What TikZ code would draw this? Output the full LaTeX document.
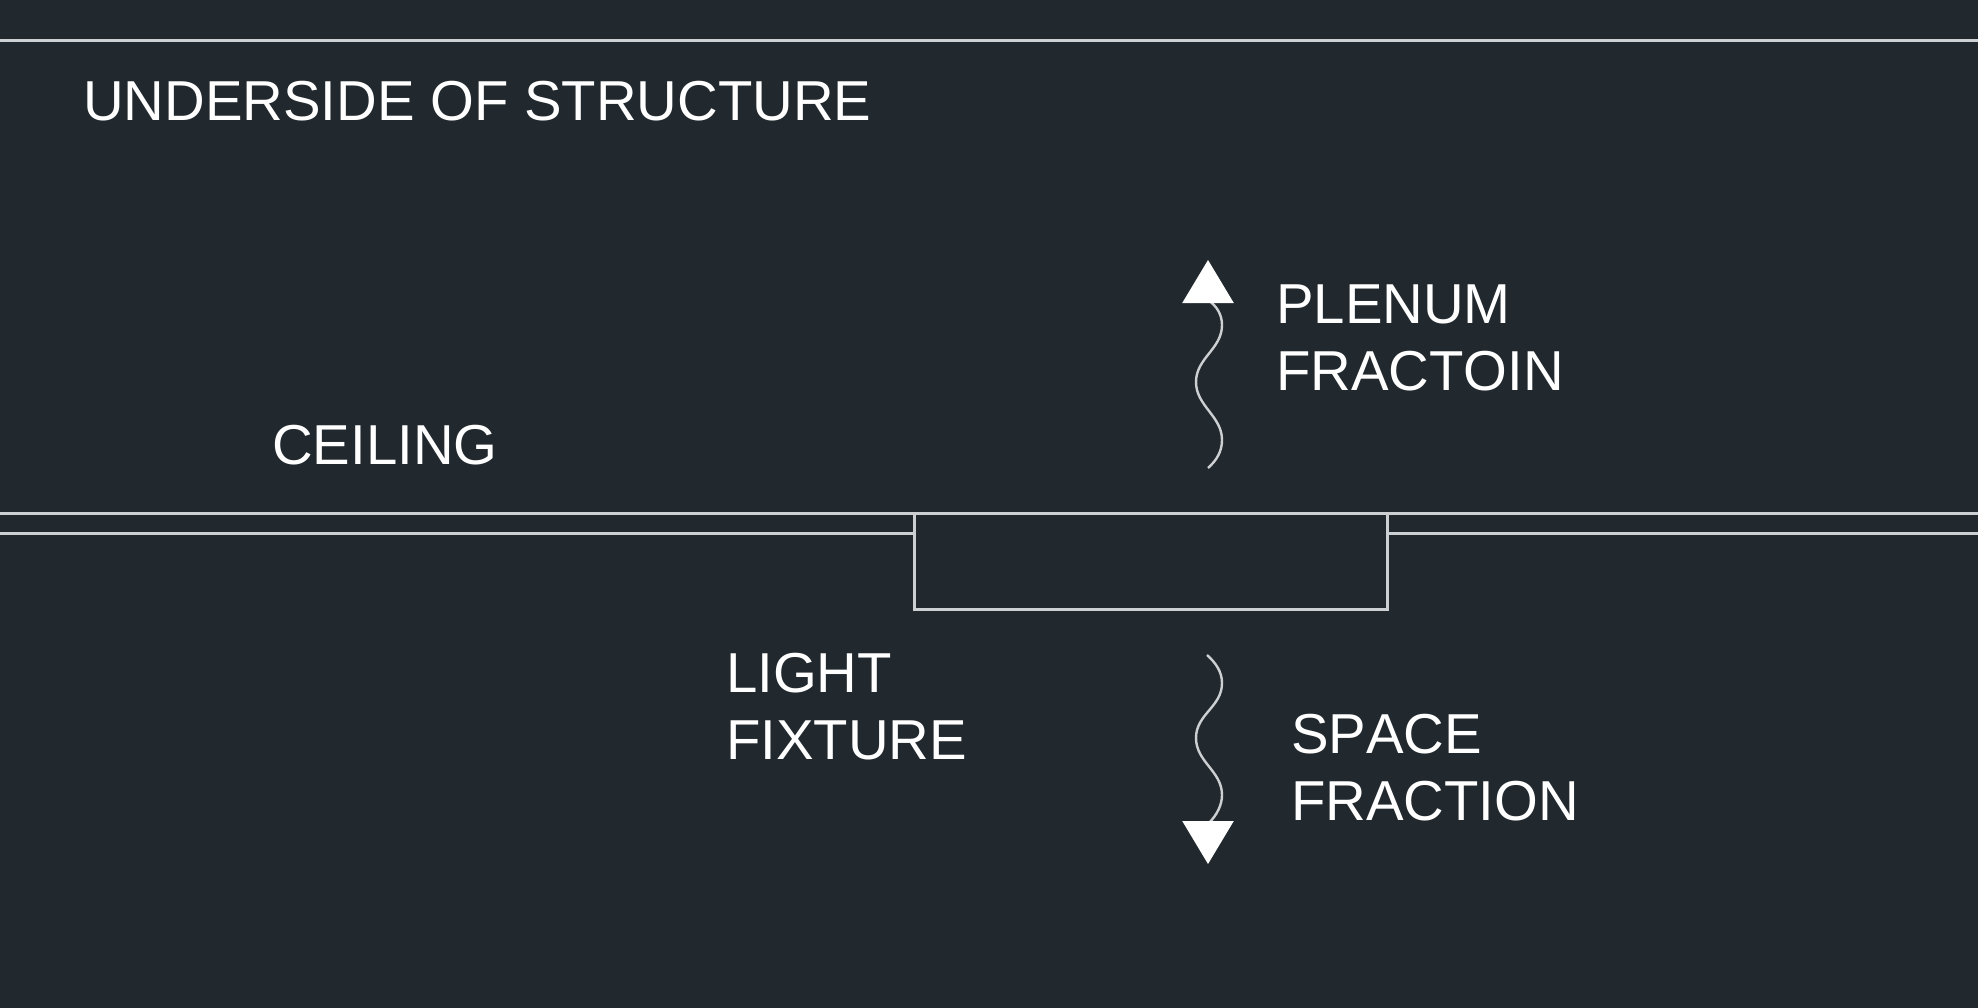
\documentclass[tikz,border=0pt]{standalone}
\usepackage{fontspec}
\setmainfont[Kerning=Off]{Liberation Sans}
\usetikzlibrary{arrows.meta}
\definecolor{bgdark}{HTML}{22292E}
\definecolor{cadline}{HTML}{CDD0D2}
\tikzset{
	label text/.style={text=white,inner sep=0,anchor=base west,align=left,font=\fontsize{56.3}{67}\selectfont},
	cad line/.style={draw=cadline,line width=3pt},
	wave arrow/.style={draw=cadline,line width=2.4pt,-{Triangle[width=51pt,length=43pt,fill=white,color=white]}}
}
\begin{document}
\begin{tikzpicture}[x=1pt,y=-1pt]
	\useasboundingbox (0,0) rectangle (1978,1007);
	\fill[bgdark] (-3,-3) rectangle (1981,1010);

	\node[cad line,draw,minimum width=473pt,minimum height=95.5pt,inner sep=0,outer sep=0] (fixture) at (1151,561.5) {};

	\coordinate (top1) at (0,40);
	\coordinate (top2) at (1978,40);
	\coordinate (ceil3) at (0,533.5);
	\coordinate (ceil4) at (1978,533.5);
	\coordinate (up1) at (1208,468);
	\coordinate (up2) at (1208,260);
	\coordinate (down1) at (1207,655);
	\coordinate (down2) at (1208,864);

	\draw[cad line] (top1) -- (top2);
	\draw[cad line] (fixture.north west) -- (fixture.north west -| top1);
	\draw[cad line] (fixture.north east) -- (fixture.north east -| top2);
	\draw[cad line] (ceil3) -- (fixture.west |- ceil3);
	\draw[cad line] (fixture.east |- ceil3) -- (ceil4);

	\draw[wave arrow] (up1) .. controls (1217,460) and (1222,451) .. (1222,440)
		.. controls (1222,416) and (1196,406) .. (1196,382)
		.. controls (1196,358) and (1222,349) .. (1222,325)
		.. controls (1222,315) and (1217,306) .. (1208,300) -- (up2);
	\draw[wave arrow] (down1) .. controls (1216,663) and (1222,672) .. (1222,683)
		.. controls (1222,707) and (1196,714) .. (1196,738)
		.. controls (1196,762) and (1222,771) .. (1222,795)
		.. controls (1222,805) and (1217,815) .. (1208,824) -- (down2);

	\node[label text] (structure) at (83,120) {UNDERSIDE OF STRUCTURE};
	\node[label text] (ceiling) at (272,464) {CEILING};
	\node[label text] (light) at (726,759) {LIGHT\\FIXTURE};
	\node[label text] (plenum) at (1276,390) {PLENUM\\FRACTOIN};
	\node[label text] (space) at (1291,820) {SPACE\\FRACTION};
\end{tikzpicture}
\end{document}
